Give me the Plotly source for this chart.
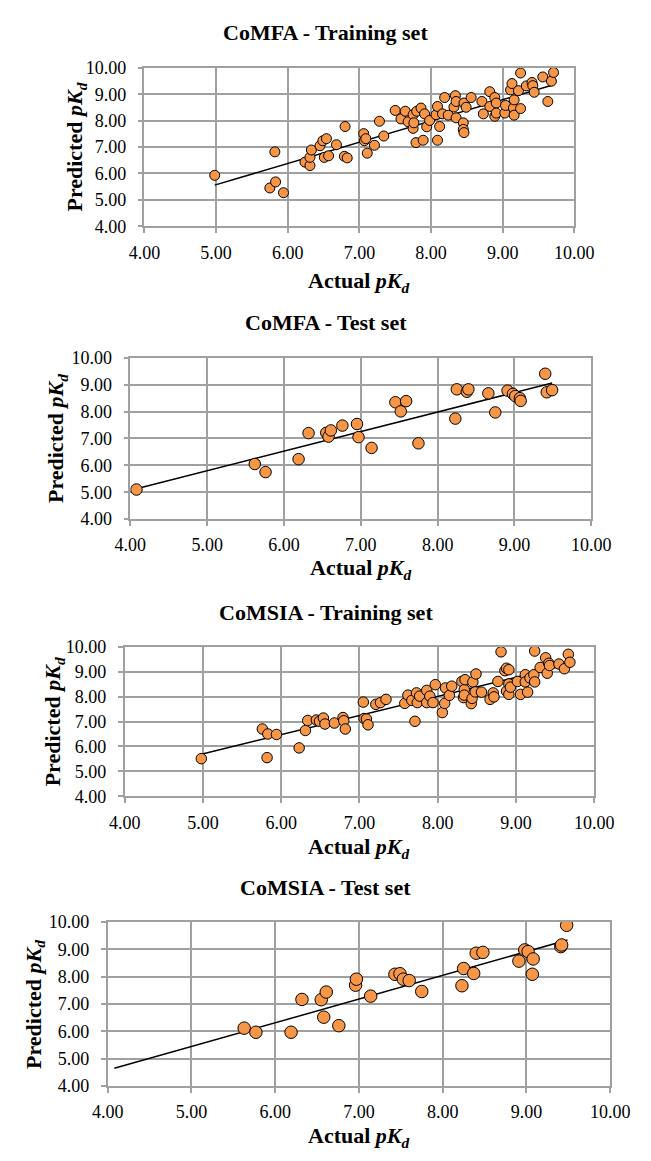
import plotly.graph_objects as go

W, H = 651, 1161

# ---------------- data ----------------
comfa_train_actual = [4.98, 5.82, 5.75, 5.83, 5.94, 6.24, 6.31, 6.31, 6.33, 6.45, 6.49, 6.54, 6.51, 6.57,
                      6.68, 6.80, 6.79, 6.83, 7.06, 7.07, 7.09, 7.11, 7.21, 7.28, 7.34, 7.50, 7.58, 7.64,
                      7.68, 7.75, 7.75, 7.76, 7.79, 7.80, 7.86, 7.89, 7.91, 7.94, 7.98, 8.07, 8.09, 8.09,
                      8.12, 8.16, 8.19, 8.24, 8.32, 8.34, 8.35, 8.35, 8.45, 8.45, 8.46, 8.46, 8.49, 8.56,
                      8.71, 8.73, 8.82, 8.82, 8.89, 8.89, 8.91, 8.91, 9.03, 9.04, 9.11, 9.13, 9.15, 9.16,
                      9.16, 9.22, 9.25, 9.25, 9.33, 9.41, 9.42, 9.44, 9.56, 9.63, 9.68, 9.71]
comfa_train_pred = [5.93, 6.82, 5.45, 5.68, 5.27, 6.43, 6.30, 6.61, 6.89, 7.05, 7.24, 7.32, 6.61, 6.67,
                    7.09, 7.78, 6.65, 6.59, 7.51, 7.24, 7.32, 6.77, 7.07, 7.98, 7.42, 8.39, 8.07, 8.36,
                    7.96, 8.23, 7.71, 7.92, 7.17, 8.36, 8.48, 7.26, 8.26, 7.77, 8.01, 8.23, 8.54, 7.26,
                    7.78, 8.26, 8.88, 8.21, 8.52, 8.95, 8.73, 8.11, 7.92, 7.67, 7.55, 8.67, 8.51, 8.88,
                    8.73, 8.26, 9.10, 8.54, 8.88, 8.17, 8.67, 8.29, 8.29, 8.58, 9.17, 9.41, 8.48, 8.21,
                    8.79, 9.14, 9.81, 8.46, 9.32, 9.45, 9.33, 9.08, 9.66, 8.73, 9.50, 9.83]

comfa_test_actual = [4.08, 5.62, 5.76, 6.19, 6.32, 6.55, 6.58, 6.61, 6.76, 6.95, 6.97, 7.14, 7.45, 7.52,
                     7.59, 7.75, 8.23, 8.25, 8.38, 8.40, 8.66, 8.75, 8.91, 8.98, 9.01, 9.07, 9.08, 9.40,
                     9.42, 9.49]
comfa_test_pred = [5.10, 6.05, 5.75, 6.23, 7.20, 7.21, 7.07, 7.30, 7.48, 7.54, 7.05, 6.65, 8.35, 8.01,
                   8.39, 6.82, 7.74, 8.83, 8.74, 8.83, 8.68, 7.97, 8.78, 8.66, 8.58, 8.50, 8.40, 9.41,
                   8.72, 8.80]

comsia_train_actual = [4.98, 5.76, 5.82, 5.83, 5.94, 6.23, 6.31, 6.34, 6.45, 6.49, 6.54, 6.56, 6.68, 6.79,
                       6.80, 6.82, 7.05, 7.06, 7.09, 7.11, 7.21, 7.27, 7.34, 7.58, 7.62, 7.67, 7.71, 7.73,
                       7.74, 7.77, 7.86, 7.86, 7.90, 7.94, 7.97, 8.06, 8.09, 8.10, 8.15, 8.18, 8.31, 8.33,
                       8.34, 8.35, 8.34, 8.43, 8.44, 8.45, 8.48, 8.49, 8.56, 8.67, 8.71, 8.72, 8.77, 8.81,
                       8.86, 8.88, 8.91, 8.88, 8.91, 8.91, 8.93, 9.02, 9.06, 9.12, 9.12, 9.15, 9.18, 9.23,
                       9.24, 9.24, 9.31, 9.38, 9.40, 9.42, 9.43, 9.55, 9.62, 9.67, 9.69]
comsia_train_pred = [5.51, 6.70, 5.55, 6.50, 6.48, 5.94, 6.64, 7.04, 7.06, 7.01, 7.14, 6.90, 6.94, 7.16,
                     7.03, 6.70, 7.78, 7.12, 7.10, 6.87, 7.69, 7.76, 7.89, 7.73, 8.06, 7.85, 7.01, 8.15,
                     7.76, 8.02, 8.25, 7.76, 8.02, 7.76, 8.48, 7.36, 7.73, 8.35, 8.05, 8.42, 8.61, 7.96,
                     8.28, 8.68, 8.06, 7.72, 7.93, 8.59, 8.19, 8.91, 8.18, 7.89, 8.15, 7.99, 8.61, 9.80,
                     9.04, 9.14, 9.08, 8.22, 8.09, 8.51, 8.38, 8.61, 8.09, 8.88, 8.59, 8.18, 8.75, 8.88,
                     8.59, 9.83, 9.17, 9.56, 8.94, 9.34, 9.25, 9.31, 9.12, 9.70, 9.38]

comsia_test_actual = [5.63, 5.77, 6.19, 6.32, 6.55, 6.58, 6.61, 6.76, 6.96, 6.97, 7.14, 7.43, 7.49, 7.53,
                      7.60, 7.75, 8.23, 8.25, 8.37, 8.40, 8.48, 8.91, 8.98, 9.02, 9.08, 9.07, 9.41, 9.42,
                      9.48]
comsia_test_pred = [6.12, 5.97, 5.97, 7.17, 7.16, 6.52, 7.44, 6.21, 7.69, 7.91, 7.29, 8.09, 8.11, 7.91,
                    7.86, 7.46, 7.67, 8.30, 8.12, 8.86, 8.89, 8.57, 8.98, 8.92, 8.65, 8.09, 9.10, 9.16,
                    9.88]

# linear trend lines: slope, intercept, x start, x end
fit_slopes = [0.805, 0.728, 0.768, 0.867]
fit_intercepts = [1.55, 2.16, 1.865, 1.113]
fit_x_start = [4.98, 4.08, 4.98, 4.08]
fit_x_end = [9.71, 9.49, 9.68, 9.49]

panel_titles = ["CoMFA - Training set", "CoMFA - Test set", "CoMSIA - Training set", "CoMSIA - Test set"]
tick_vals = [4, 5, 6, 7, 8, 9, 10]
tick_text = ["4.00", "5.00", "6.00", "7.00", "8.00", "9.00", "10.00"]

# ---------------- layout geometry (pixels) ----------------
# plot area: left, right, top, bottom
boxes = [(136, 591, 59, 220), (121, 609, 354, 518), (115, 612, 648, 800), (97, 629, 928, 1095)]
title_y = [23, 318, 613, 893]
xtitle_y = [277, 569, 853, 1147]
ytitle_x = [64, 44, 40, 20]
marker_sizes = [10, 11.5, 10.5, 12.5]

series = [(comfa_train_actual, comfa_train_pred), (comfa_test_actual, comfa_test_pred),
          (comsia_train_actual, comsia_train_pred), (comsia_test_actual, comsia_test_pred)]

FONT = "Liberation Serif"
GRID = "#A0A0A0"
ORANGE = "#F79646"

fig = go.Figure()
annotations = []
for i, ((xs, ys), (l, r, t, b)) in enumerate(zip(series, boxes)):
    n = "" if i == 0 else str(i + 1)
    xa, ya = "x" + n, "y" + n
    x0, x1 = fit_x_start[i], fit_x_end[i]
    fig.add_trace(go.Scatter(
        x=[x0, x1], y=[fit_slopes[i] * x0 + fit_intercepts[i], fit_slopes[i] * x1 + fit_intercepts[i]],
        mode="lines", line=dict(color="black", width=1.5), xaxis=xa, yaxis=ya,
        showlegend=False, hoverinfo="skip"))
    fig.add_trace(go.Scatter(
        x=xs, y=ys, mode="markers", xaxis=xa, yaxis=ya, showlegend=False,
        marker=dict(size=marker_sizes[i], color=ORANGE, line=dict(color="black", width=1))))

    common = dict(range=[4, 10], tickvals=tick_vals, ticktext=tick_text, showgrid=True,
                  gridcolor=GRID, gridwidth=1.5, showline=True, linecolor=GRID, linewidth=1.5,
                  mirror=True, ticks="outside", ticklen=5, tickcolor=GRID, tickwidth=1.5,
                  zeroline=False, fixedrange=True,
                  tickfont=dict(family=FONT, size=18, color="black"))
    fig.update_layout(**{
        "xaxis" + n: dict(domain=[l / W, r / W], anchor=ya, ticklabelstandoff=4, **common),
        "yaxis" + n: dict(domain=[1 - b / H, 1 - t / H], anchor=xa, ticklabelstandoff=8, **common),
    })

    annotations.append(dict(text="<b>" + panel_titles[i] + "</b>", x=0.504, y=1 - title_y[i] / H,
                            xref="paper", yref="paper", showarrow=False, xanchor="center",
                            yanchor="middle", font=dict(family=FONT, size=22, color="black")))
    annotations.append(dict(text="<b>Actual <i>pK</i><sub><i>d</i></sub></b>",
                            x=(l + r) / 2 / W, y=1 - xtitle_y[i] / H,
                            xref="paper", yref="paper", showarrow=False, xanchor="center",
                            yanchor="middle", font=dict(family=FONT, size=22, color="black")))
    annotations.append(dict(text="<b>Predicted <i>pK</i><sub><i>d</i></sub></b>",
                            x=ytitle_x[i] / W, y=1 - (t + b) / 2 / H, textangle=-90,
                            xref="paper", yref="paper", showarrow=False, xanchor="center",
                            yanchor="middle", font=dict(family=FONT, size=22, color="black")))

fig.update_layout(width=W, height=H, margin=dict(l=0, r=0, t=0, b=0),
                  paper_bgcolor="white", plot_bgcolor="white",
                  font=dict(family=FONT, color="black"),
                  annotations=annotations, showlegend=False)

fig.write_html("out.html")
